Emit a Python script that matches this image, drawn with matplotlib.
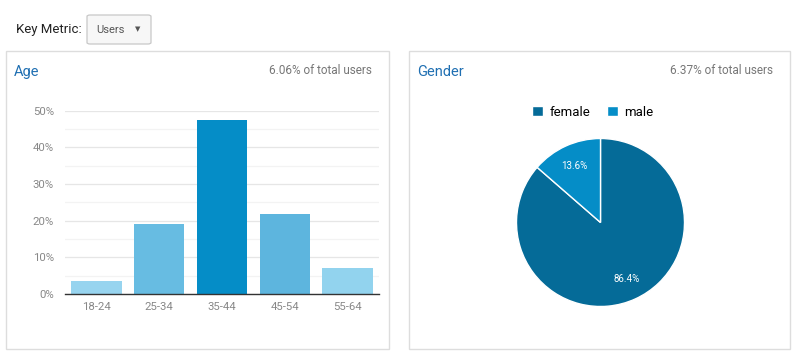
import matplotlib
matplotlib.use("Agg")
import matplotlib.pyplot as plt
from matplotlib.patches import Rectangle, FancyBboxPatch
from matplotlib.ticker import FuncFormatter, MultipleLocator

plt.rcParams['font.family'] = ['Roboto', 'DejaVu Sans']

age_groups = ["18-24", "25-34", "35-44", "45-54", "55-64"]
age_share = [3.5, 19.1, 47.5, 21.8, 7.1]
age_colors = ["#97d4ef", "#67bce2", "#058dc7", "#5db5de", "#92d3ee"]

genders = ["female", "male"]
gender_share = [86.4, 13.6]
gender_colors = ["#056b98", "#058dc7"]

age_note = "6.06% of total users"
gender_note = "6.37% of total users"

W, H = 798, 358
fig = plt.figure(figsize=(W / 100, H / 100), dpi=100)


def px(x, y):
    return x / W, 1 - y / H


def box(x0, y0, x1, y1):
    return [x0 / W, 1 - y1 / H, (x1 - x0) / W, (y1 - y0) / H]


# top bar: key metric selector
fig.text(*px(16, 30), "Key Metric:", fontsize=9.5, color="#222222", va="center")
fig.patches.append(FancyBboxPatch(px(87, 44), 64 / W, 29 / H,
                                  boxstyle="round,pad=0,rounding_size=0.004",
                                  transform=fig.transFigure, facecolor="#f7f7f7",
                                  edgecolor="#c8c8c8", linewidth=0.9))
fig.text(*px(110, 30), "Users", fontsize=8, color="#555555", ha="center", va="center")
fig.text(*px(138, 30), "\u25bc", fontsize=5, color="#555555", ha="center", va="center")

# panel frames
for x0, x1 in [(6, 389), (409, 790)]:
    fig.patches.append(Rectangle(px(x0, 349), (x1 - x0) / W, 298 / H,
                                 transform=fig.transFigure, facecolor="none",
                                 edgecolor="#dddddd", linewidth=1))

title_color = "#1f6fb2"
fig.text(*px(14, 72), "Age", fontsize=10.5, color=title_color, va="center")
fig.text(*px(372, 70), age_note, fontsize=8.5, color="#777777", ha="right", va="center")
fig.text(*px(417, 72), "Gender", fontsize=10.5, color=title_color, va="center")
fig.text(*px(773, 70), gender_note, fontsize=8.5, color="#777777", ha="right", va="center")

# age bar chart
ax = fig.add_axes(box(65, 110.7, 379, 294))
ax.bar(age_groups, age_share, width=0.8, color=age_colors, zorder=2)
ax.set_ylim(0, 50)
ax.set_xlim(-0.5, 4.5)
ax.yaxis.set_major_locator(MultipleLocator(10))
ax.yaxis.set_minor_locator(MultipleLocator(5))
ax.yaxis.set_major_formatter(FuncFormatter(lambda v, p: f"{v:.0f}%"))
ax.grid(axis="y", which="major", color="#e6e6e6", linewidth=0.9, zorder=0)
ax.grid(axis="y", which="minor", color="#f3f3f3", linewidth=0.9, zorder=0)
for s in ["top", "right", "left"]:
    ax.spines[s].set_visible(False)
ax.spines["bottom"].set_color("#333333")
ax.spines["bottom"].set_linewidth(1)
ax.tick_params(axis="both", which="both", length=0, labelsize=8.2, labelcolor="#888888")
ax.tick_params(axis="y", pad=8)
ax.tick_params(axis="x", pad=6)

# gender pie chart
pax = fig.add_axes(box(516.5, 138.5, 684.5, 306.5))
wedges, _, autotexts = pax.pie(gender_share, colors=gender_colors, startangle=90,
                               counterclock=False, autopct="%.1f%%", pctdistance=0.74,
                               wedgeprops=dict(edgecolor="white", linewidth=1))
for t in autotexts:
    t.set_color("white")
    t.set_fontsize(7)
pax.set_xlim(-1, 1)
pax.set_ylim(-1, 1)
pax.set_aspect("equal")

fig.legend(wedges, genders, loc="center", bbox_to_anchor=px(593, 112), ncol=2,
           frameon=False, fontsize=9.5, handlelength=0.8, handleheight=0.8,
           handletextpad=0.5, columnspacing=1.3)

fig.savefig("out.png", dpi=100, facecolor="white")
